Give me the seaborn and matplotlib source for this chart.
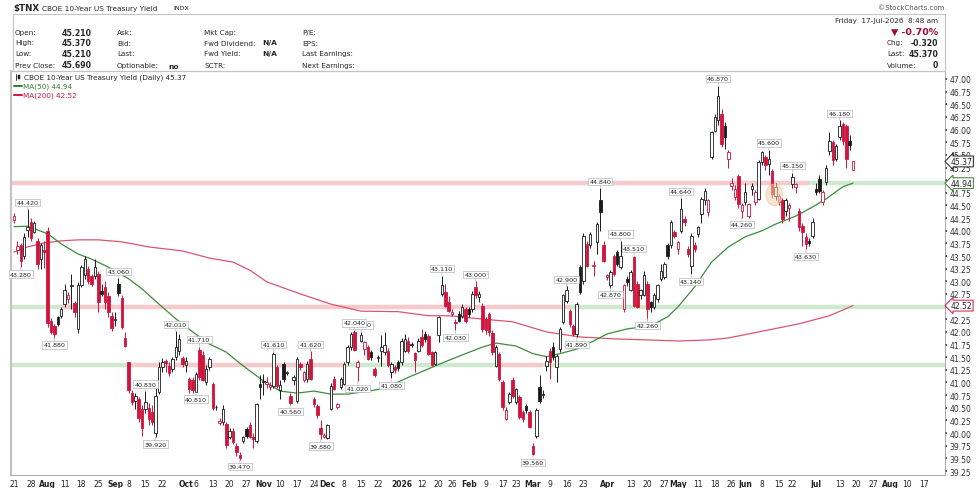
import matplotlib as mpl
import matplotlib.pyplot as plt
import numpy as np
import pandas as pd
import seaborn as sns
from matplotlib.patches import Rectangle, Ellipse
from matplotlib.lines import Line2D

mpl.use('Agg')

# ---- data: daily OHLC of $TNX, 21-Jul-2025 .. 17-Jul-2026 (one entry per trading day)
opens = [
    44.22, 43.62, 43.72, 43.50, 44.02, 44.17, 43.98, 43.80, 43.45, 43.62,
    44.00, 42.22, 42.12, 42.29, 42.32, 42.55, 42.65, 42.90, 42.58, 42.06,
    42.92, 43.12, 43.25, 43.10, 43.11, 43.15, 42.80, 42.88, 42.70, 42.32,
    42.24, 42.95, 42.68, 41.87, 41.40, 40.80, 40.63, 40.68, 40.48, 40.48,
    40.50, 40.42, 40.00, 40.82, 41.30, 41.42, 41.33, 41.27, 41.50, 41.63,
    41.48, 41.35, 41.07, 41.04, 40.82, 41.65, 41.55, 41.00, 41.30, 40.97,
    40.52, 40.20, 40.22, 40.18, 39.92, 40.05, 39.75, 39.56, 39.85, 40.08,
    40.15, 39.92, 39.85, 40.97, 41.00, 40.97, 40.91, 40.94, 41.30, 40.86,
    41.37, 41.18, 40.74, 41.04, 40.64, 41.37, 41.04, 41.07, 41.47, 40.68,
    40.54, 40.11, 39.92, 39.90, 40.48, 41.07, 40.52, 40.91, 40.97, 41.40,
    41.70, 42.00, 41.30, 41.83, 41.66, 41.70, 41.60, 41.27, 41.48, 41.63,
    41.60, 41.63, 41.20, 41.30, 41.40, 41.40, 41.63, 41.83, 41.74, 41.58,
    41.63, 41.90, 41.96, 41.92, 41.60, 41.37, 41.93, 42.75, 42.78, 42.59,
    42.36, 42.20, 42.36, 42.32, 42.45, 42.45, 42.45, 42.88, 42.69, 42.52,
    42.26, 42.36, 41.98, 41.33, 41.57, 41.00, 40.28, 40.61, 41.04, 40.61,
    40.71, 40.41, 40.54, 40.41, 39.75, 39.95, 40.91, 40.76, 41.33, 41.63,
    41.70, 41.30, 41.66, 42.19, 42.62, 42.42, 42.12, 41.96, 43.28, 43.00,
    43.74, 43.71, 43.30, 43.77, 44.60, 43.71, 43.08, 42.92, 43.50, 43.57,
    43.28, 42.46, 43.05, 42.82, 43.48, 42.95, 42.72, 42.72, 42.95, 42.59,
    42.49, 42.65, 43.05, 43.08, 43.71, 43.71, 43.98, 43.64, 44.00, 44.23,
    43.64, 43.31, 43.71, 43.94, 44.33, 44.60, 44.37, 45.45, 45.98, 46.18,
    46.31, 46.08, 45.42, 44.88, 44.66, 45.09, 44.40, 44.56, 44.30, 44.82,
    44.56, 44.63, 45.35, 45.45, 45.32, 45.19, 44.69, 44.56, 44.60, 44.40,
    44.45, 44.92, 44.86, 44.40, 44.10, 43.87, 43.80, 43.90, 44.83, 45.02,
    44.56, 44.96, 45.58, 45.75, 45.42, 45.85, 46.11, 46.08, 45.78, 45.21,
]
highs = [
    44.36, 43.80, 43.76, 43.95, 44.42, 44.25, 44.20, 43.85, 43.76, 43.80,
    44.07, 42.28, 42.15, 42.32, 42.50, 42.95, 42.78, 43.15, 42.62, 42.98,
    43.32, 43.50, 43.30, 43.15, 43.44, 43.20, 42.95, 43.00, 42.78, 42.40,
    42.39, 43.06, 42.72, 42.00, 41.40, 40.85, 40.80, 40.72, 40.55, 40.83,
    40.60, 40.55, 40.90, 41.40, 41.48, 41.47, 41.40, 41.50, 42.01, 41.95,
    41.52, 41.50, 41.10, 41.10, 41.20, 41.71, 41.62, 41.35, 41.50, 41.00,
    40.55, 40.30, 40.55, 40.22, 40.10, 40.10, 39.80, 39.62, 39.95, 40.12,
    40.22, 40.00, 40.60, 41.14, 41.17, 41.10, 41.00, 41.61, 41.35, 41.04,
    41.40, 41.22, 40.80, 41.15, 41.50, 41.40, 41.22, 41.42, 41.62, 40.72,
    40.58, 40.25, 40.00, 40.18, 40.98, 41.12, 40.60, 41.10, 41.40, 41.75,
    41.99, 42.04, 41.45, 42.00, 41.82, 41.75, 41.65, 41.30, 41.55, 41.93,
    42.00, 41.68, 41.40, 41.35, 41.45, 41.88, 41.96, 41.90, 41.80, 41.60,
    41.88, 42.05, 42.02, 41.96, 41.62, 41.62, 42.32, 43.11, 42.95, 42.70,
    42.45, 42.25, 42.42, 42.55, 42.50, 42.50, 42.80, 43.00, 42.80, 42.58,
    42.30, 42.40, 42.03, 41.75, 41.60, 41.05, 40.52, 40.82, 41.10, 40.90,
    40.75, 40.45, 40.58, 40.45, 39.80, 40.50, 41.15, 40.85, 41.53, 41.68,
    41.80, 41.56, 42.10, 42.75, 42.90, 42.45, 42.15, 42.60, 43.32, 43.95,
    43.80, 43.98, 43.40, 44.18, 44.84, 43.80, 43.15, 43.22, 43.55, 43.62,
    43.80, 42.95, 43.10, 43.22, 43.51, 43.00, 42.85, 43.20, 43.00, 42.62,
    42.76, 42.95, 43.35, 43.38, 43.75, 44.22, 44.02, 43.80, 44.64, 44.30,
    43.70, 43.95, 43.78, 44.10, 44.66, 44.85, 44.62, 45.98, 46.30, 46.87,
    46.40, 46.15, 45.60, 45.05, 44.90, 45.12, 44.55, 44.95, 44.55, 44.95,
    44.80, 45.40, 45.58, 45.50, 45.60, 45.22, 44.95, 44.72, 44.65, 44.65,
    44.55, 45.15, 44.95, 44.45, 44.15, 43.95, 43.85, 44.25, 44.95, 45.10,
    44.80, 45.30, 45.95, 45.80, 45.72, 46.18, 46.15, 46.12, 45.90, 45.37,
]
lows = [
    44.15, 43.55, 43.28, 43.45, 43.87, 43.80, 43.95, 43.25, 43.25, 43.26,
    42.10, 41.95, 41.88, 42.12, 42.28, 42.50, 42.58, 42.45, 42.30, 41.98,
    42.88, 43.05, 42.95, 42.90, 43.05, 42.40, 42.70, 42.45, 42.30, 42.02,
    42.12, 42.70, 42.05, 41.70, 40.80, 40.55, 40.48, 40.22, 39.95, 40.40,
    40.15, 40.15, 39.92, 40.78, 41.20, 41.20, 41.12, 41.20, 41.45, 41.55,
    41.30, 41.20, 40.80, 40.80, 40.81, 41.05, 41.02, 40.95, 41.25, 40.45,
    40.45, 40.15, 40.15, 39.70, 39.88, 39.78, 39.55, 39.47, 39.80, 39.90,
    39.90, 39.70, 39.80, 40.68, 40.75, 40.90, 40.85, 40.90, 40.90, 40.68,
    41.00, 41.15, 40.56, 40.95, 40.60, 41.25, 41.00, 41.00, 41.05, 40.52,
    40.30, 39.88, 39.90, 39.89, 40.45, 40.85, 40.48, 40.88, 40.95, 41.35,
    41.65, 41.62, 41.02, 41.80, 41.55, 41.45, 41.45, 41.10, 41.40, 41.33,
    41.55, 41.30, 41.08, 41.18, 41.22, 41.35, 41.60, 41.58, 41.70, 41.20,
    41.60, 41.70, 41.80, 41.55, 41.32, 41.34, 41.80, 42.70, 42.50, 42.40,
    42.32, 42.03, 42.20, 42.28, 42.18, 42.30, 42.40, 42.68, 42.60, 42.00,
    41.95, 41.92, 41.55, 41.30, 41.02, 40.45, 40.25, 40.58, 40.70, 40.58,
    40.28, 40.22, 40.40, 40.10, 39.56, 39.90, 40.60, 40.70, 41.23, 41.07,
    41.45, 41.00, 41.60, 42.15, 42.58, 42.10, 41.92, 41.89, 42.75, 42.95,
    43.28, 43.65, 43.10, 43.55, 44.00, 43.38, 43.02, 42.87, 43.10, 43.30,
    43.25, 42.40, 42.90, 42.80, 42.50, 42.48, 42.65, 42.70, 42.26, 42.40,
    42.45, 42.60, 43.00, 43.05, 43.45, 43.65, 43.85, 43.55, 43.95, 44.10,
    43.48, 43.14, 43.58, 43.88, 44.15, 44.50, 44.30, 45.42, 45.95, 46.10,
    45.65, 45.62, 45.25, 44.80, 44.60, 44.45, 44.26, 44.50, 44.25, 44.70,
    44.50, 44.60, 45.30, 45.20, 45.10, 44.65, 44.60, 44.50, 44.15, 44.30,
    44.20, 44.85, 44.75, 44.00, 43.70, 43.63, 43.70, 43.85, 44.70, 44.75,
    44.50, 44.90, 45.50, 45.30, 45.38, 45.80, 45.70, 45.25, 45.60, 45.21,
]
closes = [
    44.30, 43.70, 43.40, 43.88, 44.08, 43.85, 44.15, 43.35, 43.72, 43.58,
    42.18, 42.00, 41.95, 42.16, 42.45, 42.82, 42.72, 42.93, 42.40, 42.92,
    43.28, 43.44, 43.00, 42.95, 43.28, 42.60, 42.75, 42.60, 42.40, 42.08,
    42.26, 42.76, 42.10, 41.73, 40.85, 40.62, 40.74, 40.30, 40.10, 40.62,
    40.28, 40.22, 40.74, 41.30, 41.40, 41.38, 41.18, 41.47, 41.70, 41.86,
    41.37, 41.43, 40.88, 40.85, 41.17, 41.10, 41.05, 41.27, 41.47, 40.50,
    40.51, 40.24, 40.48, 39.76, 40.05, 39.82, 39.62, 39.50, 39.92, 39.95,
    39.93, 39.88, 40.58, 40.91, 41.02, 41.00, 40.96, 41.56, 40.94, 40.96,
    41.07, 41.20, 40.60, 41.10, 41.47, 41.30, 41.20, 41.37, 41.07, 40.58,
    40.35, 39.98, 39.96, 40.15, 40.94, 40.87, 40.58, 41.07, 41.37, 41.70,
    41.96, 41.65, 41.40, 41.93, 41.80, 41.47, 41.50, 41.14, 41.50, 41.70,
    41.74, 41.34, 41.37, 41.25, 41.28, 41.83, 41.86, 41.63, 41.77, 41.45,
    41.83, 41.75, 41.86, 41.57, 41.34, 41.60, 42.29, 42.92, 42.52, 42.42,
    42.39, 42.18, 42.22, 42.49, 42.22, 42.36, 42.75, 42.72, 42.75, 42.06,
    42.03, 41.99, 41.60, 41.70, 41.07, 40.51, 40.45, 40.78, 40.74, 40.87,
    40.31, 40.28, 40.45, 40.12, 39.59, 40.45, 40.64, 40.78, 41.43, 41.40,
    41.50, 41.53, 42.06, 42.72, 42.82, 42.16, 41.96, 42.55, 42.78, 43.90,
    43.31, 43.94, 43.33, 44.13, 44.37, 43.41, 43.12, 43.18, 43.15, 43.34,
    43.51, 42.92, 42.98, 43.18, 42.52, 42.50, 42.82, 43.12, 42.46, 42.49,
    42.72, 42.92, 43.21, 43.34, 43.51, 44.17, 43.90, 43.77, 44.43, 44.17,
    43.54, 43.90, 43.64, 44.07, 44.63, 44.79, 44.60, 45.95, 46.24, 46.67,
    45.72, 45.85, 45.55, 44.94, 44.82, 44.53, 44.50, 44.76, 44.53, 44.89,
    44.76, 45.35, 45.55, 45.29, 45.42, 44.73, 44.86, 44.69, 44.23, 44.60,
    44.50, 45.06, 44.92, 44.07, 43.97, 43.74, 43.76, 44.17, 44.76, 44.79,
    44.76, 45.25, 45.78, 45.39, 45.68, 46.08, 45.78, 45.42, 45.69, 45.37,
]
prior_close = 44.40

# moving averages (trading-day index, value)
ma50_idx = [0, 4, 10, 14, 19, 23, 28, 34, 38, 43, 48, 53, 58, 63, 67, 74, 79, 84, 89, 94,
            99, 103, 109, 114, 118, 123, 128, 134, 139, 143, 149, 154, 158, 162, 167, 172,
            176, 182, 189, 194, 197, 202, 207, 212, 217, 222, 226, 232, 237, 241, 246, 249]
ma50 = [44.08, 44.09, 43.94, 43.74, 43.54, 43.44, 43.28, 43.05, 42.85, 42.55, 42.26, 42.00,
        41.76, 41.60, 41.38, 41.03, 40.83, 40.79, 40.83, 40.77, 40.77, 40.81, 40.87, 41.01,
        41.13, 41.27, 41.41, 41.57, 41.70, 41.78, 41.72, 41.57, 41.51, 41.57, 41.66, 41.82,
        41.96, 42.06, 42.12, 42.30, 42.49, 42.89, 43.38, 43.68, 43.88, 44.00, 44.13, 44.29,
        44.47, 44.63, 44.87, 44.94]
ma200_idx = [0, 4, 9, 14, 19, 25, 32, 40, 50, 58, 65, 70, 75, 85, 94, 103, 114, 123, 129,
             138, 148, 158, 168, 179, 189, 197, 206, 212, 221, 233, 242, 249]
ma200 = [43.58, 43.68, 43.76, 43.80, 43.82, 43.82, 43.78, 43.68, 43.60, 43.46, 43.38, 43.22,
         42.99, 42.75, 42.55, 42.41, 42.40, 42.32, 42.32, 42.26, 42.20, 42.00, 41.90, 41.86,
         41.84, 41.82, 41.84, 41.88, 42.00, 42.16, 42.32, 42.52]

# swing labels (trading-day index of the candle)
high_tags = [4, 31, 39, 48, 55, 77, 88, 101, 127, 137, 164, 174, 180, 184, 198, 209, 224, 231, 245]
low_tags = [2, 12, 42, 54, 67, 82, 91, 102, 112, 131, 154, 167, 177, 188, 201, 216, 235]
hidden_tag = 103

# horizontal level lines and their colour changes (trading-day index)
levels = [44.94, 42.49, 41.35]
level_segments = [
    [(-1, 236, 'r'), (236, 277, 'g')],
    [(-1, 14, 'g'), (14, 165, 'r'), (165, 277, 'g')],
    [(-1, 34, 'g'), (34, 98, 'r'), (98, 144, 'g'), (144, 157, 'r'), (157, 277, 'g')],
]

# last values shown as tags on the price axis
axis_tags = [(45.37, 'last'), (44.94, 'ma50'), (42.52, 'ma200')]

tick_labels = [
    ('2025-07-21', '21'), ('2025-07-28', '28'), ('2025-08-04', 'Aug'), ('2025-08-11', '11'),
    ('2025-08-18', '18'), ('2025-08-25', '25'), ('2025-09-02', 'Sep'), ('2025-09-08', '8'),
    ('2025-09-15', '15'), ('2025-09-22', '22'), ('2025-10-01', 'Oct'), ('2025-10-06', '6'),
    ('2025-10-13', '13'), ('2025-10-20', '20'), ('2025-10-27', '27'), ('2025-11-03', 'Nov'),
    ('2025-11-10', '10'), ('2025-11-17', '17'), ('2025-11-24', '24'), ('2025-12-01', 'Dec'),
    ('2025-12-08', '8'), ('2025-12-15', '15'), ('2025-12-22', '22'), ('2026-01-02', '2026'),
    ('2026-01-12', '12'), ('2026-01-20', '20'), ('2026-01-26', '26'), ('2026-02-02', 'Feb'),
    ('2026-02-09', '9'), ('2026-02-17', '17'), ('2026-02-23', '23'), ('2026-03-02', 'Mar'),
    ('2026-03-09', '9'), ('2026-03-16', '16'), ('2026-03-23', '23'), ('2026-04-01', 'Apr'),
    ('2026-04-13', '13'), ('2026-04-20', '20'), ('2026-04-27', '27'), ('2026-05-01', 'May'),
    ('2026-05-11', '11'), ('2026-05-18', '18'), ('2026-05-26', '26'), ('2026-06-01', 'Jun'),
    ('2026-06-08', '8'), ('2026-06-15', '15'), ('2026-06-22', '22'), ('2026-07-01', 'Jul'),
    ('2026-07-13', '13'), ('2026-07-20', '20'), ('2026-07-27', '27'), ('2026-08-03', 'Aug'),
    ('2026-08-10', '10'), ('2026-08-17', '17'),
]
holidays = ['2025-09-01', '2025-11-27', '2025-12-25', '2026-01-01', '2026-01-19',
            '2026-02-16', '2026-04-03', '2026-05-25', '2026-06-19', '2026-07-03']

# ---- style
sns.set_theme(style='white')
plt.rcParams['font.family'] = ['DejaVu Sans']
RED = '#d2143c'
BLACK = '#1a1a1a'
GREEN_MA = '#3d8c3d'
RED_MA = '#d9566f'
TAG_EDGE = {'last': BLACK, 'ma50': '#2f7d2f', 'ma200': RED}

W, H = 980, 489
def fx(x):
    return x / W
def fy(y):
    return 1 - y / H

fig = plt.figure(figsize=(W / 100, H / 100), dpi=100)
ax = fig.add_axes([fx(11), fy(476), fx(945) - fx(11), fy(72) - fy(476)])

days = pd.bdate_range('2025-07-21', '2026-09-15', freq='C', holidays=holidays)
n = len(closes)
idx = np.arange(n)
o, h, l, c = (np.array(a) for a in (opens, highs, lows, closes))
prev = np.r_[prior_close, c[:-1]]
col = np.where(c >= prev, BLACK, RED)
face = np.where(c < o, col, 'white')

# level lines
band_colors = {'r': '#f6c9ca', 'g': '#cfe9cf'}
for lvl, segs in zip(levels, level_segments):
    for a, b, k in segs:
        ax.hlines(lvl, a, b, color=band_colors[k], lw=3.2, zorder=1)

# moving averages
sns.lineplot(x=ma200_idx, y=ma200, ax=ax, color=RED_MA, lw=0.9, estimator=None, zorder=2)
sns.lineplot(x=ma50_idx, y=ma50, ax=ax, color=GREEN_MA, lw=0.9, estimator=None, zorder=2)

# candles
ax.vlines(idx, l, h, colors=col, lw=0.7, zorder=3)
body_h = np.maximum(np.abs(c - o), 0.015)
ax.bar(idx, body_h, bottom=np.minimum(o, c), width=0.74, color=face,
       edgecolor=col, linewidth=0.6, zorder=4)

# highlight ellipse
ax.add_patch(Ellipse((225.6, 44.71), 4.9, 0.43, fc='#f2cfa6', ec='#ebbd8c',
                     lw=0.6, alpha=0.55, zorder=5))

# swing labels
box = dict(boxstyle='square,pad=0.18', fc='white', ec='#b8b8b8', lw=0.5)
arrow = dict(arrowstyle='-', color='#b8b8b8', lw=0.5, shrinkA=0, shrinkB=0)
def tag(i, above):
    v = highs[i] if above else lows[i]
    ax.annotate(f'{v:.3f}', xy=(i, v), xytext=(0, 3.2 if above else -3.2),
                textcoords='offset points', ha='center',
                va='bottom' if above else 'top', fontsize=4.6, color='#222222',
                bbox=box, arrowprops=arrow, zorder=6)
tag(hidden_tag, True)
for i in high_tags:
    tag(i, True)
for i in low_tags:
    tag(i, False)

# axes
ax.set_xlim(-0.9, 276.3)
ax.set_ylim(39.171, 47.158)
ax.yaxis.tick_right()
yt = np.arange(39.25, 47.01, 0.25)
ax.set_yticks(yt)
# tick labels that sit under a value tag are left blank, as in the source chart
hidden_ticks = [t for t in yt if any(abs(t - v) < 0.09 for v, _ in axis_tags)]
ax.set_yticklabels(['' if t in hidden_ticks else f'{t:.2f}' for t in yt])
ax.tick_params(axis='y', labelsize=5.5, length=1.5, pad=2, colors='#333333')
tick_pos = [days.get_loc(pd.Timestamp(d)) for d, _ in tick_labels]
ax.set_xticks(tick_pos)
ax.set_xticklabels([t for _, t in tick_labels])
ax.tick_params(axis='x', labelsize=5.5, length=0, pad=3, colors='#222222')
for lab, (_, t) in zip(ax.get_xticklabels(), tick_labels):
    if not t.isdigit() or len(t) == 4:
        lab.set_fontweight('bold')
ax.grid(False)
ax.spines['left'].set(color='#c4c4c4', lw=1.6)
ax.spines['top'].set(color='#c4c4c4', lw=0.8)
ax.spines['right'].set(color='#9a9a9a', lw=0.6, ls=(0, (1, 1)))
ax.spines['bottom'].set(color='#9a9a9a', lw=0.6, ls=(0, (1, 1)))

# price tags on the right axis
for val, kind in axis_tags:
    ax.annotate(f'{val:.2f}', xy=(1.0, val), xycoords=('axes fraction', 'data'),
                xytext=(4, 0), textcoords='offset points', ha='left', va='center',
                fontsize=5.5, color='#222222', annotation_clip=False, zorder=10,
                bbox=dict(boxstyle='larrow,pad=0.12', fc='white', ec=TAG_EDGE[kind], lw=0.7))

# in-chart legend
fig.text(fx(24), fy(78), 'CBOE 10-Year US Treasury Yield (Daily) 45.37', fontsize=5.2,
         va='center', color='#222222')
fig.add_artist(Line2D([fx(16), fx(16)], [fy(75), fy(81)], color=BLACK, lw=0.6))
fig.add_artist(Rectangle((fx(18), fy(80)), fx(2), fy(76) - fy(80), fc=BLACK, ec=BLACK, lw=0.3))
fig.add_artist(Line2D([fx(14), fx(22)], [fy(87), fy(87)], color='#2f7d2f', lw=1.4))
fig.text(fx(23), fy(87), 'MA(50) 44.94', fontsize=5.2, va='center', color='#2f7d2f')
fig.add_artist(Line2D([fx(14), fx(22)], [fy(96), fy(96)], color=RED, lw=1.4))
fig.text(fx(23), fy(96), 'MA(200) 42.52', fontsize=5.2, va='center', color=RED)

# ---- header
fig.text(fx(13), fy(8.5), '$TNX', fontsize=6.3, fontweight='bold', va='center')
fig.text(fx(42), fy(8.5), 'CBOE 10-Year US Treasury Yield', fontsize=5.3, va='center')
fig.text(fx(173), fy(8.5), 'INDX', fontsize=4.6, va='center')
fig.text(fx(944), fy(8), '\u00a9StockCharts.com', fontsize=5.0, va='center', ha='right',
         color='#555555')
fig.add_artist(Rectangle((fx(13), fy(72)), fx(945) - fx(13), fy(15) - fy(72),
                         fc='none', ec='#c4c4c4', lw=0.8))

rows_y = [33, 43.5, 54.5, 66]
col1 = ['Open:', 'High:', 'Low:', 'Prev Close:']
col1v = ['45.210', '45.370', '45.210', '45.690']
col2 = ['Ask:', 'Bid:', 'Last:', 'Optionable:']
col3 = ['Mkt Cap:', 'Fwd Dividend:', 'Fwd Yield:', 'SCTR:']
col3v = ['', 'N/A', 'N/A', '']
col4 = ['P/E:', 'EPS:', 'Last Earnings:', 'Next Earnings:']
for k, y in enumerate(rows_y):
    fig.text(fx(15), fy(y), col1[k], fontsize=5.2, va='center')
    fig.text(fx(62), fy(y), col1v[k], fontsize=5.6, va='center', fontweight='bold')
    fig.text(fx(117), fy(y), col2[k], fontsize=5.2, va='center')
    fig.text(fx(204), fy(y), col3[k], fontsize=5.2, va='center')
    if col3v[k]:
        fig.text(fx(262), fy(y), col3v[k], fontsize=5.4, va='center', fontweight='bold')
    fig.text(fx(302), fy(y), col4[k], fontsize=5.2, va='center')
fig.text(fx(168), fy(67), 'no', fontsize=5.4, va='center', fontweight='bold')

fig.text(fx(938), fy(21), 'Friday  17-Jul-2026  8:48 am', fontsize=5.2, va='center', ha='right')
fig.text(fx(938), fy(32.5), '\u25bc -0.70%', fontsize=6.8, va='center', ha='right',
         fontweight='bold', color='#9b0f2c')
right_rows = [(43.5, 'Chg:', '-0.320'), (54.5, 'Last:', '45.370'), (66, 'Volume:', '0')]
for y, lab, val in right_rows:
    fig.text(fx(887), fy(y), lab, fontsize=5.2, va='center')
    fig.text(fx(938), fy(y), val, fontsize=5.6, va='center', ha='right', fontweight='bold')

fig.savefig('out.png', dpi=100, facecolor='white')
